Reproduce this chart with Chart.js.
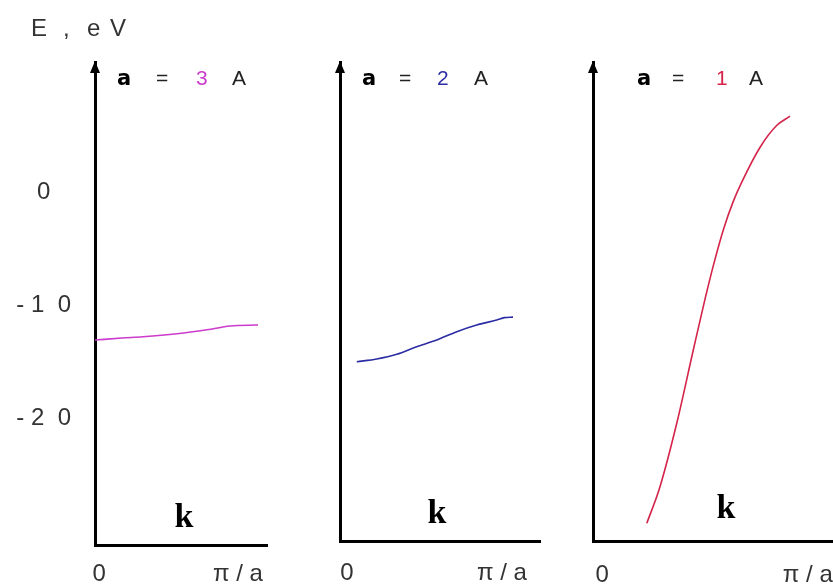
<!DOCTYPE html>
<html>
<head>
<meta charset="utf-8">
<script src="https://cdn.jsdelivr.net/npm/chart.js@4.4.0/dist/chart.umd.min.js"></script>
<style>
  html, body { margin: 0; padding: 0; background: #fff; }
  #wrap { position: relative; width: 833px; height: 588px; overflow: hidden; background: #fff; }
  #wrap canvas { position: absolute; left: 0; top: 0; }
</style>
</head>
<body>
<div id="wrap">
  <canvas id="c1" width="833" height="588"></canvas>
  <canvas id="c2" width="833" height="588"></canvas>
  <canvas id="c3" width="833" height="588"></canvas>
</div>
<script>
// E(k) for three lattice constants; k in units of pi/a, E in eV
const latticeA = ['3', '2', '1'];

const kA3 = [0, 0.166, 0.294, 0.503, 0.687, 0.828, 1.0];
const eA3 = [-13.1, -12.92, -12.81, -12.54, -12.19, -11.86, -11.77];

const kA2 = [0.097, 0.212, 0.328, 0.443, 0.559, 0.675, 0.79, 0.906, 0.95, 1.0];
const eA2 = [-15.02, -14.78, -14.36, -13.69, -13.1, -12.36, -11.77, -11.33, -11.12, -11.07];

const kA1 = [0.273, 0.34, 0.425, 0.509, 0.569, 0.611, 0.662, 0.712, 0.755, 0.848, 0.932, 1.0];
const eA1 = [-29.32, -26.08, -20.47, -13.98, -9.44, -6.49, -3.31, -0.83, 0.87, 3.96, 5.88, 6.71];

const yTickVals = [0, -10, -20];
const yTickLabels = ['0', '- 1  0', '- 2  0'];
const xTickLabels = ['0', 'π / a'];
const lineColors = ['#cc3ccc', '#2c2ca4', '#d4244a'];

const SANS = '"Liberation Sans", Arial, sans-serif';

// where each panel sits on the page
const panels = [
  { id: 'c1', k: kA3, e: eA3, left: 95, right: 267, bottom: 545, xMax: 1.055, xTicks: [0.025, 0.877], labPad: 15,
    head: [117, 156, 196, 232], kx: 184, ky: 527 },
  { id: 'c2', k: kA2, e: eA2, left: 340, right: 540, bottom: 541, xMax: 1.156, xTicks: [0.04, 0.936], labPad: 18,
    head: [362, 399, 437, 474], kx: 437, ky: 523 },
  { id: 'c3', k: kA1, e: eA1, left: 593, right: 833, bottom: 541, xMax: 1.218, xTicks: [0.046, 1.09], labPad: 20,
    head: [637, 672, 716, 749], kx: 726, ky: 518 }
];

const TOP = 62;        // pixel of the arrow tip
const ZERO_Y = 192;    // pixel of E = 0
const PX_PER_EV = 11.3;

const decor = {
  id: 'decor',
  afterDraw(chart, args, o) {
    const { ctx, chartArea: ca } = chart;
    ctx.save();
    // arrow head on the energy axis
    ctx.fillStyle = '#000';
    ctx.beginPath();
    ctx.moveTo(ca.left, ca.top - 1);
    ctx.lineTo(ca.left - 5, ca.top + 11);
    ctx.lineTo(ca.left + 5, ca.top + 11);
    ctx.closePath();
    ctx.fill();

    // a = n A
    ctx.textAlign = 'left';
    ctx.textBaseline = 'alphabetic';
    ctx.font = 'bold 21px "DejaVu Sans", sans-serif';
    ctx.fillStyle = '#000';
    ctx.fillText('a', o.head[0], 85);
    ctx.font = '21px ' + SANS;
    ctx.fillStyle = '#222';
    ctx.fillText('=', o.head[1], 85);
    ctx.fillStyle = o.color;
    ctx.fillText(o.num, o.head[2], 85);
    ctx.fillStyle = '#222';
    ctx.fillText('A', o.head[3], 85);

    // k
    ctx.textAlign = 'center';
    ctx.font = 'bold 34px "Liberation Serif", "Times New Roman", serif';
    ctx.fillStyle = '#000';
    ctx.fillText('k', o.kx, o.ky);

    if (o.title) {
      ctx.textAlign = 'left';
      ctx.font = '24px ' + SANS;
      ctx.fillStyle = '#333';
      [['E', 31], [',', 63], ['e', 87], ['V', 110]].forEach(([t, x]) => ctx.fillText(t, x, 36));
    }
    ctx.restore();
  }
};

panels.forEach((p, i) => {
  const yMin = (ZERO_Y - p.bottom) / PX_PER_EV;
  const yMax = (ZERO_Y - TOP) / PX_PER_EV;
  new Chart(document.getElementById(p.id), {
    type: 'scatter',
    data: {
      datasets: [{
        data: p.k.map((k, j) => ({ x: k, y: p.e[j] })),
        showLine: true,
        borderColor: lineColors[i],
        borderWidth: 1.6,
        pointRadius: 0,
        cubicInterpolationMode: 'monotone'
      }]
    },
    options: {
      responsive: false,
      animation: false,
      devicePixelRatio: 1,
      layout: { padding: { left: 0, top: TOP, right: 833 - p.right, bottom: 0 } },
      plugins: {
        legend: { display: false },
        tooltip: { enabled: false },
        decor: { head: p.head, num: latticeA[i], color: lineColors[i], kx: p.kx, ky: p.ky, title: i === 0 }
      },
      scales: {
        x: {
          type: 'linear',
          min: 0,
          max: p.xMax,
          grid: { display: false, drawTicks: false },
          border: { display: true, color: '#000', width: 3 },
          afterBuildTicks: s => { s.ticks = p.xTicks.map(v => ({ value: v })); },
          afterFit: s => {
            s.height = 588 - p.bottom;
            s.paddingLeft = 0;
            s.paddingRight = 0;
          },
          ticks: {
            autoSkip: false,
            maxRotation: 0,
            minRotation: 0,
            padding: p.labPad,
            color: '#333',
            font: { family: SANS, size: 24 },
            callback: (v, j) => xTickLabels[j]
          }
        },
        y: {
          type: 'linear',
          min: yMin,
          max: yMax,
          grid: { display: false, drawTicks: false },
          border: { display: true, color: '#000', width: 3 },
          afterBuildTicks: s => { s.ticks = yTickVals.map(v => ({ value: v })); },
          afterFit: s => {
            s.width = p.left;
            s.paddingTop = 0;
            s.paddingBottom = 0;
          },
          ticks: {
            display: i === 0,
            crossAlign: 'center',
            padding: 24,
            color: '#333',
            font: { family: SANS, size: 24 },
            callback: (v, j) => yTickLabels[j]
          }
        }
      }
    },
    plugins: [decor]
  });
});
</script>
</body>
</html>
